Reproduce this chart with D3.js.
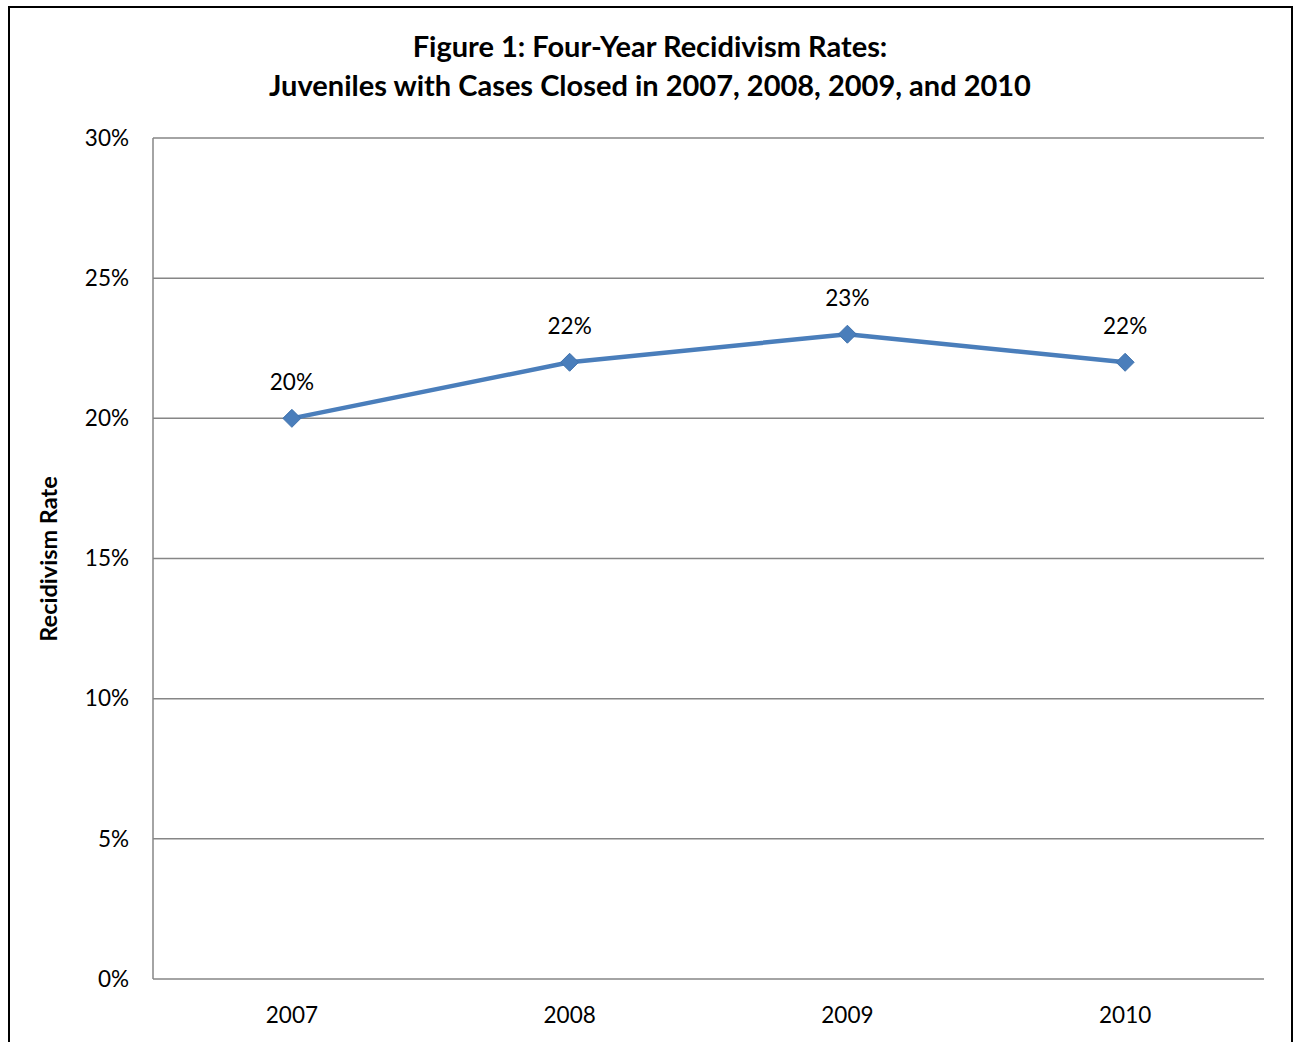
<!DOCTYPE html>
<html><head><meta charset="utf-8">
<script src="https://cdn.jsdelivr.net/npm/d3@7"></script>
<style>body{margin:0;background:#fff;} svg{display:block;font-family:Lato,"Open Sans",sans-serif;}</style>
</head><body>
<svg id="c" width="1293" height="1042"></svg>
<script>
const categories = ["2007","2008","2009","2010"];
const rates = [0.20, 0.22, 0.23, 0.22];
const rateLabels = ["20%","22%","23%","22%"];
const yTicks = [0,0.05,0.10,0.15,0.20,0.25,0.30];
const titleLines = ["Figure 1: Four-Year Recidivism Rates:","Juveniles with Cases Closed in 2007, 2008, 2009, and 2010"];
const yTitle = "Recidivism Rate";

const svg = d3.select("#c");
// outer border
svg.append("rect").attr("x",9).attr("y",7).attr("width",1283).attr("height",1040)
  .attr("fill","none").attr("stroke","#000").attr("stroke-width",2);

const L=153,R=1264,T=138,B=979;
const x = d3.scaleBand().domain(categories).range([L,R]);
const y = d3.scaleLinear().domain([0,0.30]).range([B,T]);

// gridlines
svg.append("g").selectAll("line").data(yTicks).join("line")
  .attr("x1",L).attr("x2",R).attr("y1",d=>y(d)).attr("y2",d=>y(d))
  .attr("stroke","#868686").attr("stroke-width",1.5);
// y axis line
svg.append("line").attr("x1",L).attr("x2",L).attr("y1",T).attr("y2",B)
  .attr("stroke","#868686").attr("stroke-width",1.5);

const yAxis = svg.append("g").attr("transform",`translate(${L},0)`)
  .call(d3.axisLeft(y).tickValues(yTicks).tickFormat(d3.format(".0%")).tickSize(0).tickPadding(24));
yAxis.select(".domain").remove();
yAxis.selectAll("text").attr("font-size",22.5).attr("fill","#000").attr("font-family","Lato,sans-serif");

const xAxis = svg.append("g").attr("transform",`translate(0,${B})`)
  .call(d3.axisBottom(x).tickSize(0).tickPadding(36));
xAxis.select(".domain").remove();
xAxis.selectAll("text").attr("font-size",22.5).attr("fill","#000").attr("font-family","Lato,sans-serif").attr("dy","0.35em");

// title
svg.append("g").selectAll("text").data(titleLines).join("text")
  .attr("x",650).attr("y",(d,i)=>57+i*39).attr("text-anchor","middle")
  .attr("font-size",29).attr("font-weight","bold").attr("fill","#000").text(d=>d);

// y title
svg.append("text").attr("transform","translate(57,559) rotate(-90)").attr("text-anchor","middle")
  .attr("font-size",23.5).attr("font-weight","bold").attr("fill","#000").text(yTitle);

const cx = d=>x(d)+x.bandwidth()/2;
const line = d3.line().x((d,i)=>cx(categories[i])).y(d=>y(d));
svg.append("path").datum(rates).attr("d",line).attr("fill","none")
  .attr("stroke","#4a7ebb").attr("stroke-width",4.5).attr("stroke-linejoin","round");

svg.append("g").selectAll("path").data(rates).join("path")
  .attr("transform",(d,i)=>`translate(${cx(categories[i])},${y(d)})`)
  .attr("d","M0,-9L9,0L0,9L-9,0Z").attr("fill","#4a7ebb").attr("stroke","#3f72ad").attr("stroke-width",1);

svg.append("g").selectAll("text").data(rates).join("text")
  .attr("x",(d,i)=>cx(categories[i])).attr("y",d=>y(d)-28)
  .attr("text-anchor","middle").attr("font-size",22.5).attr("fill","#000").text((d,i)=>rateLabels[i]);
</script>
</body></html>
